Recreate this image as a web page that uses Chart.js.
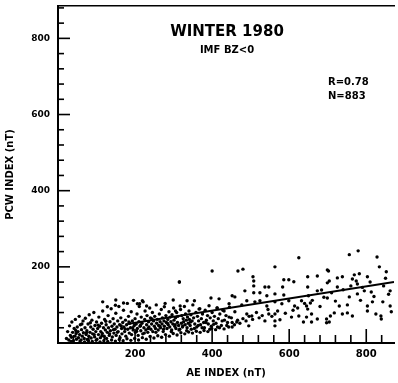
<!DOCTYPE html>
<html>
<head>
<meta charset="utf-8">
<script src="https://cdn.jsdelivr.net/npm/chart.js@4.4.1/dist/chart.umd.min.js"></script>
<style>
  html, body { margin: 0; padding: 0; background: #fff; }
  #wrap { width: 398px; height: 383px; }
</style>
</head>
<body>
<div id="wrap"><canvas id="myChart" width="398" height="383"></canvas></div>
<script>
// values (AE index, PCW index), nT
const aeValues = [
  22,25,28,30,32,35,36,38,40,42,44,45,47,48,50,52,53,55,56,58,60,61,63,65,66,68,70,71,73,75,
  76,78,80,81,83,85,86,88,90,91,93,95,96,98,100,101,103,105,106,108,110,111,113,115,116,118,120,121,123,125,
  126,128,130,131,133,135,136,138,140,141,143,145,146,148,150,151,153,155,156,158,160,161,163,165,166,168,170,171,173,175,
  176,178,180,181,183,185,186,188,190,191,193,195,196,198,200,201,203,205,206,208,210,211,213,215,216,218,220,221,223,225,
  226,228,230,231,233,235,236,238,240,241,243,245,246,248,250,251,253,255,256,258,260,261,263,265,266,268,270,271,273,275,
  276,278,280,281,283,285,286,288,290,291,293,295,296,298,300,301,303,305,306,308,310,311,313,315,316,318,320,321,323,325,
  326,328,330,331,333,335,336,338,340,341,343,345,346,348,350,352,355,358,360,362,365,368,370,372,375,378,380,382,385,388,
  390,392,395,398,400,403,406,410,413,416,420,424,428,432,436,440,445,450,
  400,315,299,335,354,397,418,219,230,212,276,317,305,366,413,
  625,563,467,480,506,508,508,586,599,612,537,547,583,485,508,452,459,524,563,586,542,490,511,524,563,599,632,444,477,542,
  581,614,645,431,459,490,503,547,563,563,563,444,464,495,537,576,606,625,637,452,645,702,
  779,756,828,834,852,699,673,648,704,725,738,769,782,803,764,774,777,648,725,699,673,684,795,777,650,699,756,813,862,655,
  730,751,803,816,843,862,648,658,717,738,751,764,803,825,838,865,707,697,673,697,658,704,839,
  34,46,57,62,69,74,79,84,89,94,99,104,109,114,119,124,129,134,139,144,149,154,159,164,169,174,179,184,189,194,
  199,204,209,214,219,224,229,234,239,244,249,254,259,264,269,274,279,284,289,294,299,304,309,314,319,324,329,334,339,344,
  349,354,359,364,369,374,379,384,389,394,399,404,409,414,419,426,431,438,443,452,458,466,472,480,488,496,505,515,522,530,
  545,555,570,590,610,622,640,660,680,690,710,720,740,760,785,790,810,820,845,850,858,
  116,150,149,128,170,206
];
const pcwValues = [
  12,30,8,45,20,15,55,28,6,38,18,62,25,10,42,30,14,70,22,48,8,35,18,58,27,12,40,65,22,32,
  9,50,18,74,28,42,13,60,24,36,80,16,46,30,55,10,38,22,68,44,14,30,52,25,84,40,18,62,34,48,
  12,28,72,40,20,56,32,90,44,16,64,26,50,36,78,20,42,58,30,96,48,14,66,38,24,54,86,42,30,60,
  18,48,104,36,70,26,52,40,82,22,58,34,112,46,64,28,50,76,38,20,56,96,44,32,68,52,24,108,40,62,
  84,34,48,72,28,56,42,92,66,36,50,80,30,58,44,70,38,100,52,62,34,46,76,56,40,88,50,66,30,58,
  44,104,72,54,38,62,48,82,42,68,56,34,74,50,92,60,44,66,38,80,54,70,46,160,36,88,52,72,42,64,
  56,96,48,76,60,40,68,52,84,62,46,74,36,58,100,66,50,80,42,70,58,90,48,64,76,54,40,86,60,72,
  50,98,66,44,80,58,70,52,92,64,76,46,86,60,72,54,94,66,
  189,160,113,111,111,118,116,111,97,103,95,97,84,89,92,
  224,200,189,194,174,163,150,166,166,161,147,147,147,137,132,124,121,132,129,126,124,111,108,111,108,111,111,103,100,97,
  103,97,97,84,82,76,71,76,76,58,45,68,55,45,58,61,68,71,55,42,68,189,
  242,232,226,200,187,192,176,174,163,171,174,179,182,174,168,163,155,147,147,158,137,139,137,129,124,118,121,134,137,105,
  97,100,97,108,108,97,89,76,79,76,79,71,84,76,71,82,71,63,63,53,55,55,63,
  4,33,5,50,3,27,6,53,4,22,7,47,3,19,6,57,4,24,8,35,5,28,9,45,6,37,11,55,7,40,
  12,31,8,46,14,26,10,38,17,63,13,28,19,44,15,36,22,52,18,30,25,48,21,34,27,45,24,32,29,55,
  26,38,31,46,28,40,33,54,30,36,38,49,35,42,40,58,37,46,42,54,48,60,52,64,58,70,62,80,66,72,
  88,70,84,78,86,92,104,112,96,120,132,110,140,150,112,146,160,122,150,170,128,
  108,113,99,95,105,103
];
// fitted line ends
const fitAe = [180, 872];
const fitPcw = [50, 160];

const xMax = 872;
const yMax = 885;
const stepMinor = 40;
const stepMajor = 200;

const font = 'DejaVu Sans';

const scatterPts = aeValues.map((v, i) => ({ x: v, y: pcwValues[i] }));
const fitPts = fitAe.map((v, i) => ({ x: v, y: fitPcw[i] }));

// inward ticks + captions
const decorations = {
  id: 'decorations',
  afterDraw(chart) {
    const ctx = chart.ctx;
    const xs = chart.scales.x, ys = chart.scales.y;
    const area = chart.chartArea;
    ctx.save();
    ctx.strokeStyle = '#000';
    ctx.lineWidth = 1.6;
    for (let v = stepMinor; v < xMax; v += stepMinor) {
      const px = xs.getPixelForValue(v);
      const len = v % stepMajor === 0 ? 14 : 8;
      ctx.beginPath();
      ctx.moveTo(px, area.bottom);
      ctx.lineTo(px, area.bottom - len);
      ctx.stroke();
    }
    for (let v = stepMinor; v < yMax; v += stepMinor) {
      const py = ys.getPixelForValue(v);
      const len = v % stepMajor === 0 ? 12 : 6;
      ctx.beginPath();
      ctx.moveTo(area.left, py);
      ctx.lineTo(area.left + len, py);
      ctx.stroke();
    }
    ctx.fillStyle = '#000';
    ctx.textBaseline = 'middle';
    ctx.textAlign = 'center';
    ctx.font = 'bold 15px ' + font;
    ctx.fillText('WINTER 1980', 227, 32);
    ctx.font = 'bold 10px ' + font;
    ctx.fillText('IMF BZ<0', 227, 50);
    ctx.textAlign = 'left';
    ctx.font = 'bold 10px ' + font;
    ctx.fillText('R=0.78', 328, 82);
    ctx.fillText('N=883', 328, 96);
    ctx.restore();
  }
};

// drop the label padding chart.js keeps for the empty end ticks
function noPad(s) {
  s.paddingTop = 0;
  s.paddingBottom = 0;
  s.paddingLeft = 0;
  s.paddingRight = 0;
}

const myChart = new Chart(document.getElementById('myChart').getContext('2d'), {
  type: 'scatter',
  data: {
    datasets: [{
      label: 'points',
      data: scatterPts,
      backgroundColor: '#000',
      borderWidth: 0,
      pointRadius: 1.7
    }, {
      type: 'line',
      label: 'fit',
      data: fitPts,
      borderColor: '#000',
      borderWidth: 2,
      pointRadius: 0,
      fill: false
    }]
  },
  options: {
    responsive: false,
    animation: false,
    layout: { padding: { top: 6, right: 0, left: 0, bottom: 0 } },
    plugins: { legend: { display: false }, tooltip: { enabled: false } },
    scales: {
      x: {
        type: 'linear',
        min: 0, max: xMax,
        afterFit: (s) => { s.height = 40; noPad(s); },
        grid: { display: false, drawTicks: false },
        border: { display: true, color: '#000', width: 2 },
        ticks: {
          stepSize: stepMinor, padding: 5, autoSkip: false, maxRotation: 0,
          color: '#000', font: { family: font, size: 10, weight: 'bold' },
          callback: (v) => (v > 0 && v % stepMajor === 0) ? v : ''
        },
        title: {
          display: true, text: 'AE INDEX (nT)', color: '#000',
          font: { family: font, size: 10, weight: 'bold' }
        }
      },
      x2: {
        type: 'linear', position: 'top',
        min: 0, max: xMax,
        afterFit: (s) => { s.height = 0; noPad(s); },
        grid: { display: false, drawTicks: false },
        border: { display: true, color: '#000', width: 1.5 },
        ticks: { display: false }
      },
      y: {
        type: 'linear',
        min: 0, max: yMax,
        afterFit: (s) => { s.width = 58; noPad(s); },
        grid: { display: false, drawTicks: false },
        border: { display: true, color: '#000', width: 2 },
        ticks: {
          stepSize: stepMinor, padding: 8, autoSkip: false,
          color: '#000', font: { family: font, size: 9, weight: 'bold' },
          callback: (v) => (v > 0 && v % stepMajor === 0) ? v : ''
        },
        title: {
          display: true, text: 'PCW INDEX (nT)', color: '#000',
          font: { family: font, size: 10, weight: 'bold' }
        }
      }
    }
  },
  plugins: [decorations]
});
</script>
</body>
</html>
